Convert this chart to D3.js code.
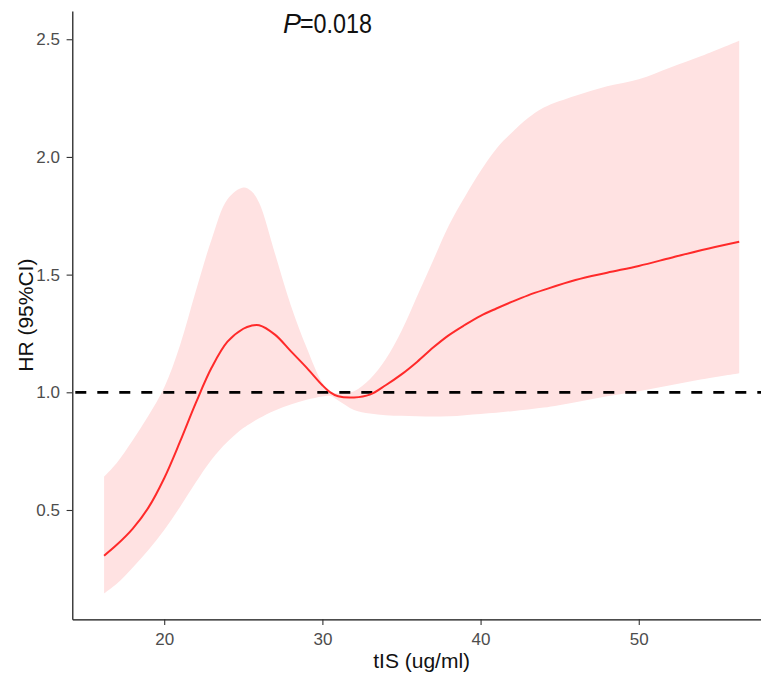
<!DOCTYPE html>
<html>
<head>
<meta charset="utf-8">
<script src="https://cdn.jsdelivr.net/npm/d3@7"></script>
<style>
  body { margin: 0; background: #fff; }
  text { font-family: "Liberation Sans", Arial, sans-serif; }
</style>
</head>
<body>
<svg id="chart" width="761" height="677"></svg>
<script>
const tis = [16.2, 17, 18, 19, 20, 21, 22, 23, 24, 25, 25.5, 26, 27, 28, 29, 30, 30.5, 31, 32, 33, 34,
  35, 36, 37, 38, 39, 40, 41, 42, 43, 44, 46, 48, 50, 52, 54, 56.35];
const hr = [0.306, 0.352, 0.42, 0.51, 0.635, 0.79, 0.955, 1.105, 1.215, 1.27, 1.283, 1.285, 1.245, 1.175, 1.105, 1.03, 1.0, 0.983, 0.978, 0.99, 1.03,
  1.076, 1.13, 1.19, 1.243, 1.286, 1.325, 1.356, 1.385, 1.412, 1.435, 1.477, 1.508, 1.537, 1.571, 1.605, 1.64];
const ciLower = [0.146, 0.187, 0.255, 0.33, 0.415, 0.513, 0.618, 0.715, 0.79, 0.848, 0.87, 0.89, 0.923, 0.948, 0.968, 0.982, 0.985, 0.965, 0.925, 0.91, 0.903,
  0.9, 0.898, 0.897, 0.898, 0.903, 0.908, 0.913, 0.92, 0.927, 0.935, 0.958, 0.983, 1.005, 1.03, 1.055, 1.081];
const ciUpper = [0.642, 0.70, 0.795, 0.9, 1.02, 1.2, 1.43, 1.65, 1.82, 1.87, 1.855, 1.805, 1.59, 1.37, 1.19, 1.04, 1.005, 0.995, 1.005, 1.055, 1.14,
  1.26, 1.41, 1.56, 1.71, 1.83, 1.94, 2.035, 2.105, 2.165, 2.21, 2.26, 2.30, 2.33, 2.38, 2.43, 2.494];

const xTicks = [20, 30, 40, 50];
const yTicks = [0.5, 1.0, 1.5, 2.0, 2.5];
const refHR = 1;
const pLabel = "=0.018";

const rows = tis.map((t, i) => ({x: t, hr: hr[i], lo: ciLower[i], hi: ciUpper[i]}));

const svg = d3.select("#chart");
const plotLeft = 72.3, plotRight = 771, plotTop = 11, plotBottom = 619.3;

const x = d3.scaleLinear().domain([14.19, 58.36]).range([plotLeft, plotRight]);
const y = d3.scaleLinear().domain([0.0356, 2.62]).range([plotBottom, plotTop]);

const smooth = d3.curveCatmullRom.alpha(0.5);

// confidence band
svg.append("path")
    .datum(rows)
    .attr("fill", "#ffe2e2")
    .attr("d", d3.area()
        .curve(smooth)
        .x(d => x(d.x))
        .y0(d => y(d.lo))
        .y1(d => y(d.hi)));

// reference line HR = 1
svg.append("line")
    .attr("x1", plotLeft + 3).attr("x2", plotRight)
    .attr("y1", y(refHR)).attr("y2", y(refHR))
    .attr("stroke", "#000")
    .attr("stroke-width", 2.8)
    .attr("stroke-dasharray", "11,11");

// spline
svg.append("path")
    .datum(rows)
    .attr("fill", "none")
    .attr("stroke", "#ff2a2a")
    .attr("stroke-width", 2)
    .attr("d", d3.line()
        .curve(smooth)
        .x(d => x(d.x))
        .y(d => y(d.hr)));

// axes
const xAxis = svg.append("g")
    .attr("transform", `translate(0,${plotBottom})`)
    .call(d3.axisBottom(x).tickValues(xTicks).tickSize(5.7).tickSizeOuter(0).tickPadding(7.7).tickFormat(d3.format("d")));

const yAxis = svg.append("g")
    .attr("transform", `translate(${plotLeft},0)`)
    .call(d3.axisLeft(y).tickValues(yTicks).tickSize(5.7).tickSizeOuter(0).tickPadding(6.6).tickFormat(d3.format(".1f")));

[xAxis, yAxis].forEach(g => {
    g.select(".domain").attr("stroke", "#111").attr("stroke-width", 1.2);
    g.selectAll(".tick line").attr("stroke", "#333").attr("stroke-width", 1.1);
    g.selectAll(".tick text")
        .attr("fill", "#4d4d4d")
        .style("font-size", "17px")
        .style("font-family", "'Liberation Sans', Arial, sans-serif");
});

// axis titles
svg.append("text")
    .attr("x", (plotLeft + plotRight) / 2)
    .attr("y", 668)
    .attr("text-anchor", "middle")
    .style("font-size", "21px")
    .attr("fill", "#111")
    .text("tIS (ug/ml)");

svg.append("text")
    .attr("transform", `translate(33,${(plotTop + plotBottom) / 2}) rotate(-90)`)
    .attr("text-anchor", "middle")
    .style("font-size", "21px")
    .attr("fill", "#111")
    .text("HR (95%CI)");

// p value annotation: italic P, then the value
svg.append("text")
    .attr("x", 283)
    .attr("y", 33)
    .style("font-size", "27px")
    .style("font-style", "italic")
    .attr("fill", "#111")
    .text("P");

svg.append("text")
    .attr("x", 300)
    .attr("y", 33)
    .attr("textLength", 72)
    .attr("lengthAdjust", "spacingAndGlyphs")
    .style("font-size", "27px")
    .attr("fill", "#111")
    .text(pLabel);
</script>
</body>
</html>
